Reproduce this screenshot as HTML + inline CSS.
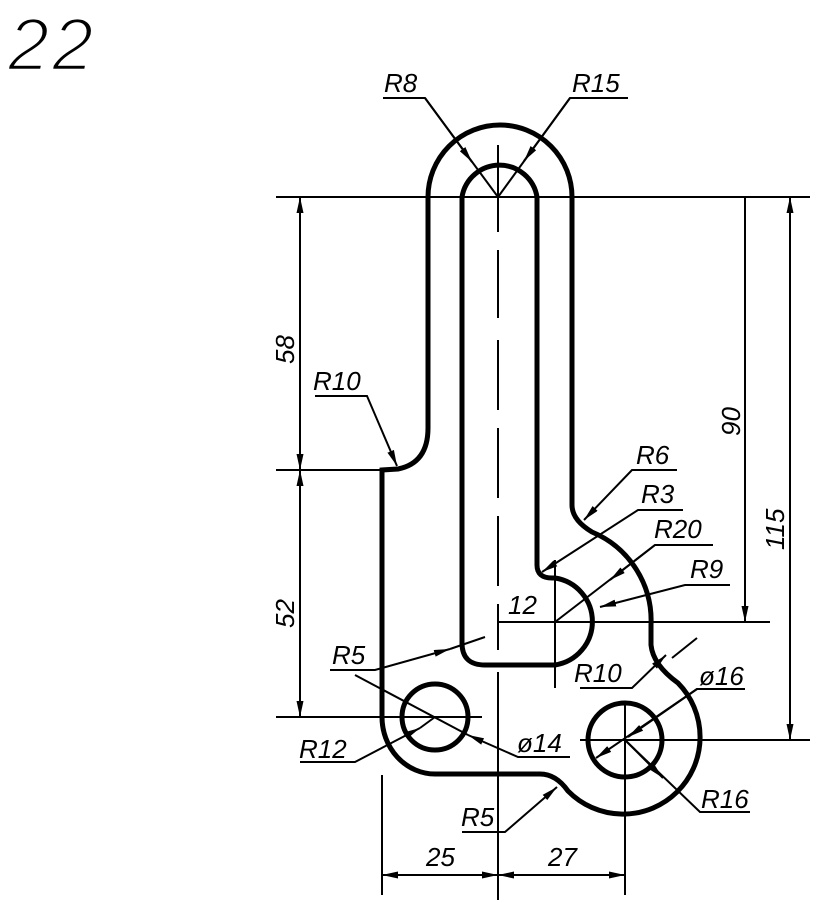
<!DOCTYPE html>
<html><head><meta charset="utf-8"><style>
html,body{margin:0;padding:0;background:#fff;width:819px;height:909px;overflow:hidden}
svg text{font-family:"Liberation Sans",sans-serif;font-style:italic;fill:#000}
</style></head><body>
<svg width="819" height="909" viewBox="0 0 819 909" xmlns="http://www.w3.org/2000/svg">
<defs>
<marker id="a" viewBox="0 0 16 7" refX="16" refY="3.5" markerWidth="16" markerHeight="7" orient="auto-start-reverse" markerUnits="userSpaceOnUse">
<path d="M0,0 L16,3.5 L0,7 Z" fill="#000"/></marker>
</defs>
<text x="8" y="70" font-size="74" style="font-weight:normal;letter-spacing:3px" stroke="#fff" stroke-width="2.5">22</text>

<g fill="none" stroke="#000" stroke-width="5">
<path d="M572,197 L572,505 Q572,520 592,532 A96,96 0 0 1 651,625 L651,645 Q653,665 678,683 A77,77 0 1 1 568,791 Q556,774 540,774 L435,774 A53,57 0 0 1 382,717 L382,470 L398,469 Q428,463 428,428 L428,197 A72,72 0 0 1 572,197 Z"/>
<path d="M537,197 L537,565 Q537,578 552,578 L555,578 A44,44 0 0 1 555,665 L485,665 Q462,665 462,643 L462,197 A38,38 0 0 1 537,197 Z"/>
<circle cx="435" cy="717" r="33"/>
<circle cx="625" cy="740" r="37"/>
</g>

<g fill="none" stroke="#000" stroke-width="2">
<path d="M498,145 L498,232 M498,250 L498,318 M498,340 L498,410 M498,428 L498,498 M498,516 L498,586 M498,604 L498,650 M498,672 L498,900"/>
<path d="M276,197 L810,197 M276,470 L382,470 M276,717 L482,717 M498,622 L770,622 M580,740 L810,740 M555,560 L555,688 M625,705 L625,895 M382,775 L382,895"/>
<path d="M300,197 L300,470" marker-start="url(#a)" marker-end="url(#a)"/>
<path d="M300,470 L300,717" marker-start="url(#a)" marker-end="url(#a)"/>
<path d="M745,197 L745,622" marker-end="url(#a)"/>
<path d="M790,197 L790,740" marker-start="url(#a)" marker-end="url(#a)"/>
<path d="M382,875 L498,875" marker-start="url(#a)" marker-end="url(#a)"/>
<path d="M498,875 L625,875" marker-start="url(#a)" marker-end="url(#a)"/>
<path d="M498,622 L555,622"/>
<path d="M383,98 L425,98 L498,197"/><path d="M425,98 L472,162" marker-end="url(#a)"/>
<path d="M628,98 L570,98 L498,197"/><path d="M570,98 L524,161" marker-end="url(#a)"/>
<path d="M315,396 L367,396 L397,466" marker-end="url(#a)"/>
<path d="M677,470 L632,470 L584,520" marker-end="url(#a)"/>
<path d="M683,510 L638,510 L542,572" marker-end="url(#a)"/>
<path d="M713,545 L655,545 L555,622"/><path d="M655,545 L610,580" marker-end="url(#a)"/>
<path d="M730,585 L685,585 L600,607" marker-end="url(#a)"/>
<path d="M580,688 L632,688 L666,655" marker-end="url(#a)"/><path d="M697,638 L672,658"/>
<path d="M745,689 L697,689 L596,758" marker-end="url(#a)"/><path d="M697,689 L628,737" marker-end="url(#a)"/>
<path d="M570,757 L518,757 L468,735" marker-end="url(#a)"/><path d="M468,735 L355,675"/>
<path d="M330,670 L375,670 L450,649" marker-end="url(#a)"/><path d="M450,649 L485,637"/>
<path d="M300,762 L355,762 L420,728" marker-end="url(#a)"/><path d="M420,728 L435,717"/>
<path d="M462,832 L505,832 L557,787" marker-end="url(#a)"/>
<path d="M750,812 L700,812 L625,740"/><path d="M625,740 L663,778" marker-end="url(#a)"/>
</g>

<g font-size="26">
<text x="384" y="92">R8</text>
<text x="572" y="92">R15</text>
<text x="313" y="390">R10</text>
<text x="636" y="464">R6</text>
<text x="641" y="503">R3</text>
<text x="654" y="538">R20</text>
<text x="690" y="578">R9</text>
<text x="508" y="614">12</text>
<text x="574" y="682">R10</text>
<text x="699" y="685">ø16</text>
<text x="332" y="664">R5</text>
<text x="517" y="752">ø14</text>
<text x="299" y="758">R12</text>
<text x="461" y="826">R5</text>
<text x="701" y="808">R16</text>
<text x="426" y="866">25</text>
<text x="548" y="866">27</text>
<text transform="translate(294,364) rotate(-90)">58</text>
<text transform="translate(294,628) rotate(-90)">52</text>
<text transform="translate(740,436) rotate(-90)">90</text>
<text transform="translate(784,550) rotate(-90)">115</text>
</g>
</svg>
</body></html>
